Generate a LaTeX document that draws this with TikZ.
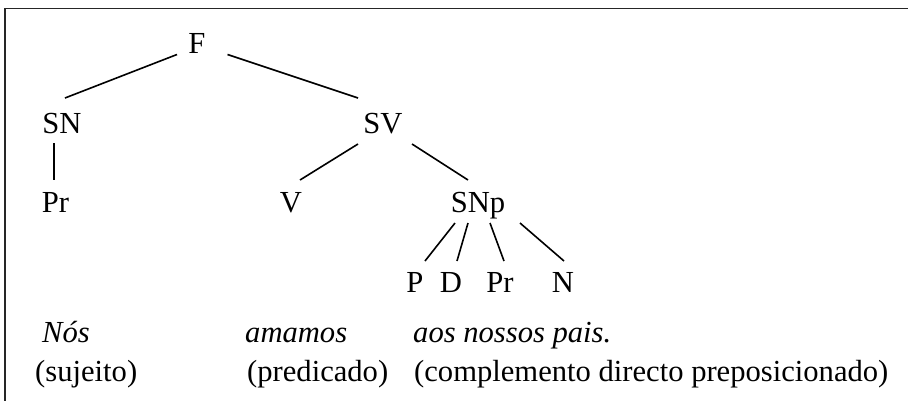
\documentclass[tikz,border=0pt]{standalone}
\usepackage{fontspec}
\setmainfont{Liberation Serif}
\usetikzlibrary{calc}
\begin{document}
\begin{tikzpicture}[x=1pt,y=-1pt,
  lbl/.style={font=\fontsize{30.6}{36}\selectfont, inner sep=0pt, anchor=base},
  txt/.style={font=\fontsize{30.6}{36}\selectfont, inner sep=0pt, anchor=base west},
  edge/.style={line width=1.6pt},
  frame/.style={line width=1.8pt, draw=black!85}]
\useasboundingbox (0,0) rectangle (908,400);
\coordinate (fb) at (5,401);
\coordinate (fc) at (5,8.5);
\coordinate (fr) at (909,8.5);
\draw[frame] (fb) -- (fc) -- (fr);
% tree nodes
\node[lbl] (F) at (197,53) {F};
\node[lbl] (SN) at (62,133) {SN};
\node[lbl] (SV) at (383,133) {SV};
\node[lbl] (PrA) at (55.5,212) {Pr};
\node[lbl] (V) at (291,212) {V};
\node[lbl] (SNp) at (478,212) {SNp};
\node[lbl] (P) at (415,292) {P};
\node[lbl] (D) at (451,292) {D};
\node[lbl] (PrB) at (500,292) {Pr};
\node[lbl] (N) at (563,292) {N};
% sentence
\node[txt] (nos) at (42,342) {\itshape Nós};
\node[txt] (amamos) at (245,342) {\itshape amamos};
\node[txt] (aos) at (413,342) {\itshape aos nossos pais.};
\node[txt] (suj) at (35,381) {(sujeito)};
\node[txt] (pred) at (247,381) {(predicado)};
\node[txt] (comp) at (414,381) {(complemento directo preposicionado)};
% edges
\draw[edge] ($(F.base)+(-20,1.5)$) -- ($(SN.base)+(3,-35)$);
\draw[edge] ($(F.base)+(30.5,1.5)$) -- ($(SV.base)+(-25,-35)$);
\draw[edge] ($(SN.base)+(-8,10)$) -- ($(PrA.base)+(-1.5,-32)$);
\draw[edge] ($(SV.base)+(-25,11)$) -- ($(V.base)+(9,-32)$);
\draw[edge] ($(SV.base)+(29,11)$) -- ($(SNp.base)+(-10,-32)$);
\draw[edge] ($(SNp.base)+(-23,11)$) -- ($(P.base)+(10,-31)$);
\draw[edge] ($(SNp.base)+(-10,11)$) -- ($(D.base)+(6,-31)$);
\draw[edge] ($(SNp.base)+(12,11)$) -- ($(PrB.base)+(4,-31)$);
\draw[edge] ($(SNp.base)+(42,11)$) -- ($(N.base)+(1,-31)$);
\end{tikzpicture}
\end{document}
